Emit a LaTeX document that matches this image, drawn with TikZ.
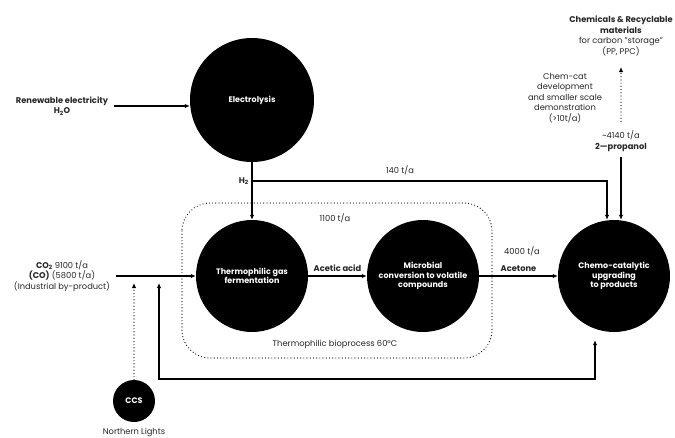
\documentclass[tikz,border=0pt]{standalone}
\usepackage{fontspec}
\setmainfont{Poppins}
\usepackage{tikz}
\usetikzlibrary{arrows.meta}
\tikzset{
    Process/.style = {fill,circle,text=white,font=\bfseries\fontsize{8}{9.5}\selectfont,
                      align=center,minimum size=112pt,inner sep=0pt},
    Small process/.style = {Process,minimum size=42pt},
    Note/.style = {font=\fontsize{8.3}{10.5}\selectfont,align=center,text=black!85,inner sep=1pt},
    Flow/.style = {line width=1.2pt,-{Latex[length=5pt,width=4.5pt]}},
    Two way/.style = {Flow,{Latex[length=5pt,width=4.5pt]}-{Latex[length=5pt,width=4.5pt]}},
    Dotted line/.style = {line width=1.2pt,line cap=round,dash pattern=on 0pt off 3.2pt},
    Dotted flow/.style = {Flow,Dotted line}
}

\begin{document}
\begin{tikzpicture}[x=1pt,y=-1pt]
        \useasboundingbox (0,0) rectangle (675,437);
        % process units
        \node[Process,minimum size=124pt] (Elec) at (252,100) {Electrolysis};
        \node[Process] (Ferm) at (252,276) {Thermophilic gas\\fermentation};
        \node[Process] (Conv) at (423,276) {Microbial\\conversion to volatile\\compounds};
        \node[Process] (Upgr) at (614,276) {Chemo-catalytic\\upgrading\\to products};
        \node[Small process] (CCS) at (134,401) {CCS};
        \node[Note] (NL) at (134,432) {Northern Lights};
        % bioprocess frame
        \draw[Dotted line,rounded corners=28pt] (182,203) rectangle (492,358);
        \node[Note] (Bio) at (335,344) {Thermophilic bioprocess 60°C};
        % inputs and outputs
        \node[Note] (Ren) at (62,106) {\textbf{Renewable electricity}\\\textbf{H\textsubscript{2}O}};
        \node[Note] (Feed) at (62,276) {\textbf{CO\textsubscript{2}} 9100 t/a\\\textbf{(CO)} (5800 t/a)\\(Industrial by-product)};
        \node[Note] (Prop) at (621,141) {\textasciitilde4140 t/a\\\textbf{2—propanol}};
        \node[Note] (Prod) at (621,36) {\textbf{Chemicals \& Recyclable}\\\textbf{materials}\\for carbon "storage"\\(PP, PPC)};
        \node[Note] (Dev) at (565,98) {Chem-cat\\development\\and smaller scale\\demonstration\\(>10t/a)};
        \node[Note] (R140) at (400,170) {140 t/a};
        \node[Note] (R1100) at (335,218) {1100 t/a};
        \node[Note] (R4000) at (522,251) {4000 t/a};
        % connectors
        \coordinate (H2) at (252,181);
        \coordinate (Rin) at (159,283);
        \coordinate (Rb) at (159,379);
        \draw[Flow,shorten <=5pt] (Ren) -- (Ren -| Elec.west);
        \draw[Flow] (Elec) -- (Ferm);
        \node[Note,left=2pt] (H2l) at (H2) {\textbf{H\textsubscript{2}}};
        \draw[Flow] (H2) -| ([xshift=-7pt]Upgr.north);
        \draw[Flow,shorten <=5pt] (Prop) -- ([xshift=7pt]Upgr.north);
        \draw[Dotted flow,shorten <=8pt,shorten >=10pt] (Prop) -- (Prod);
        \draw[Flow,shorten <=5pt] (Feed) -- (Ferm);
        \draw[Flow] (Ferm) -- (Conv) node[Note,midway,above=3pt] (AA) {\textbf{Acetic acid}};
        \draw[Flow] (Conv) -- (Upgr) node[Note,midway,above=3pt] (AC) {\textbf{Acetone}};
        \draw[Two way,shorten >=8pt] (Rin) -- (Rb) -| ([xshift=-19pt]Upgr.south);
        \draw[Dotted flow] (CCS) -- (CCS.north |- Rin);
\end{tikzpicture}
\end{document}
